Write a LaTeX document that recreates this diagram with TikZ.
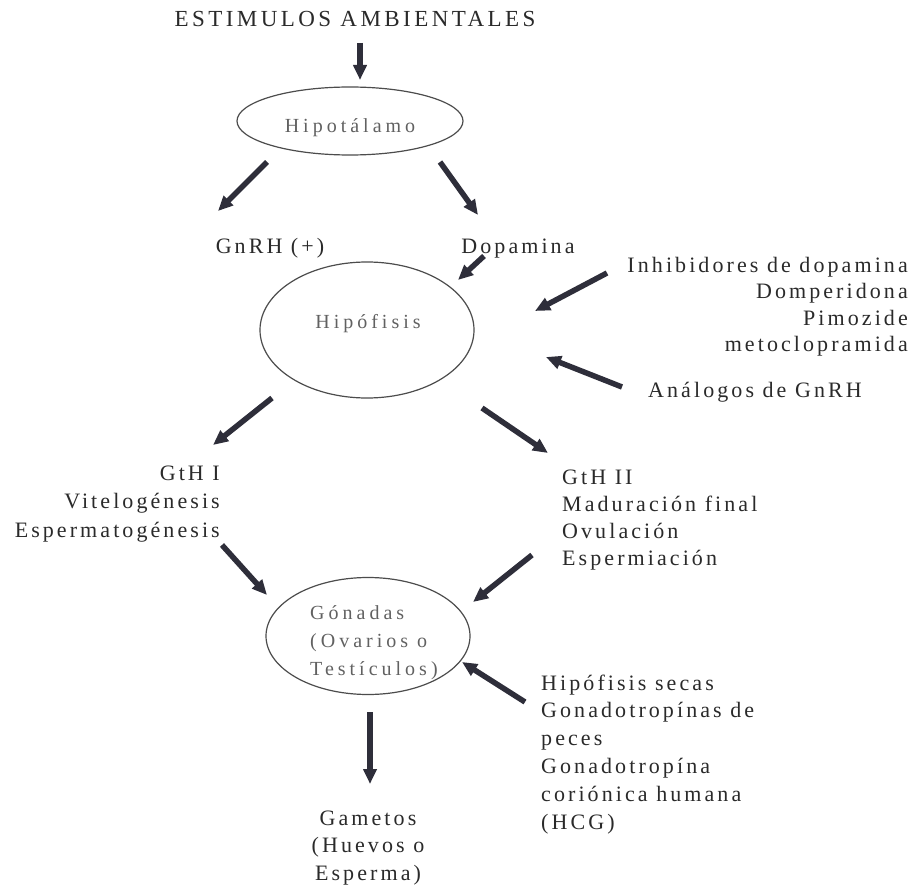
\documentclass[tikz,border=0pt]{standalone}
\usepackage{fontspec}
\setmainfont{Liberation Serif}
\newfontfamily\spacedfont[LetterSpace=14]{Liberation Serif}
\newfontfamily\titlefont[LetterSpace=15]{Liberation Serif}
\newfontfamily\organfont[LetterSpace=20]{Liberation Serif}
\usetikzlibrary{arrows.meta,shapes.geometric}
\definecolor{arrowcol}{HTML}{2E2E3A}
\definecolor{textcol}{HTML}{2A2A2A}
\begin{document}
\begin{tikzpicture}[x=1pt,y=-1pt,
  txt/.style={font=\fontsize{22}{#1}\selectfont\spacedfont, inner sep=0pt, text=textcol},
  txt/.default=27.5,
  ttl/.style={font=\fontsize{23}{26}\selectfont\titlefont, inner sep=0pt, text=textcol},
  organtxt/.style={font=\fontsize{20}{#1}\selectfont\organfont, text=black!62, inner sep=0pt},
  organtxt/.default=28,
  organ/.style={ellipse, draw=black!70, line width=1.2pt, inner sep=0pt},
  arr/.style={draw=arrowcol, line width=5.5pt, -{Triangle[length=15pt,width=13pt]}}]
\useasboundingbox[fill=white] (0,0) rectangle (911,888);

% texts (multi-line nodes are anchored on the baseline of their last line)
\node[ttl, anchor=base] (title) at (355,27) {ESTIMULOS AMBIENTALES};
\node[organ, minimum width=226pt, minimum height=68pt] (hipot) at (350,121) {};
\node[organtxt, anchor=base] (hipottxt) at (350,133) {Hipotálamo};
\node[txt, anchor=base] (gnrh) at (270,254) {GnRH (+)};
\node[txt, anchor=base] (dopa) at (518,254) {Dopamina};
\node[organ, minimum width=214pt, minimum height=136pt] (hipof) at (367,330) {};
\node[organtxt, anchor=base] (hipoftxt) at (368,328) {Hipófisis};
\node[txt=26.5, align=right, anchor=base east] (inhib) at (908,351.5) {Inhibidores de dopamina\\Domperidona\\Pimozide\\metoclopramida};
\node[txt, anchor=base] (analog) at (755,397) {Análogos de GnRH};
\node[txt=28.5, align=right, anchor=base east] (gth1) at (220,537) {GtH I\\Vitelogénesis\\Espermatogénesis};
\node[txt=27, align=left, anchor=base west] (gth2) at (562,565) {GtH II\\Maduración final\\Ovulación\\Espermiación};
\node[organ, minimum width=204pt, minimum height=117pt] (gonad) at (368,636) {};
\node[organtxt=28, align=left, anchor=base west] (gonadtxt) at (310,675) {Gónadas\\(Ovarios o\\Testículos)};
\node[txt=27.8, align=left, anchor=base west] (hcg) at (541,829) {Hipófisis secas\\Gonadotropínas de\\peces\\Gonadotropína\\coriónica humana\\(HCG)};
\node[txt=27.5, align=center, anchor=base] (gamet) at (368,880) {Gametos\\(Huevos o\\Esperma)};

% arrow end points
\coordinate (t1) at (360,43);  \coordinate (t2) at (360,80);
\coordinate (g1) at (267,162); \coordinate (g2) at (218,211);
\coordinate (d1) at (440,162); \coordinate (d2) at (478,215);
\coordinate (p1) at (484,256); \coordinate (p2) at (458,280);
\coordinate (i1) at (607,273); \coordinate (i2) at (535,311);
\coordinate (a1) at (622,387); \coordinate (a2) at (546,357);
\coordinate (l1) at (272,398); \coordinate (l2) at (213,445);
\coordinate (r1) at (482,408); \coordinate (r2) at (548,453);
\coordinate (m1) at (222,545); \coordinate (m2) at (267,595);
\coordinate (n1) at (532,555); \coordinate (n2) at (473,602);
\coordinate (h1) at (525,702); \coordinate (h2) at (462,662);
\coordinate (s1) at (370,712); \coordinate (s2) at (370,784);

\draw[arr, line width=6.5pt] (t1) -- (t2);
\draw[arr] (g1) -- (g2);
\draw[arr] (d1) -- (d2);
\draw[arr] (p1) -- (p2);
\draw[arr] (i1) -- (i2);
\draw[arr] (a1) -- (a2);
\draw[arr] (l1) -- (l2);
\draw[arr] (r1) -- (r2);
\draw[arr] (m1) -- (m2);
\draw[arr] (n1) -- (n2);
\draw[arr] (h1) -- (h2);
\draw[arr, line width=6.5pt] (s1) -- (s2);
\end{tikzpicture}
\end{document}
